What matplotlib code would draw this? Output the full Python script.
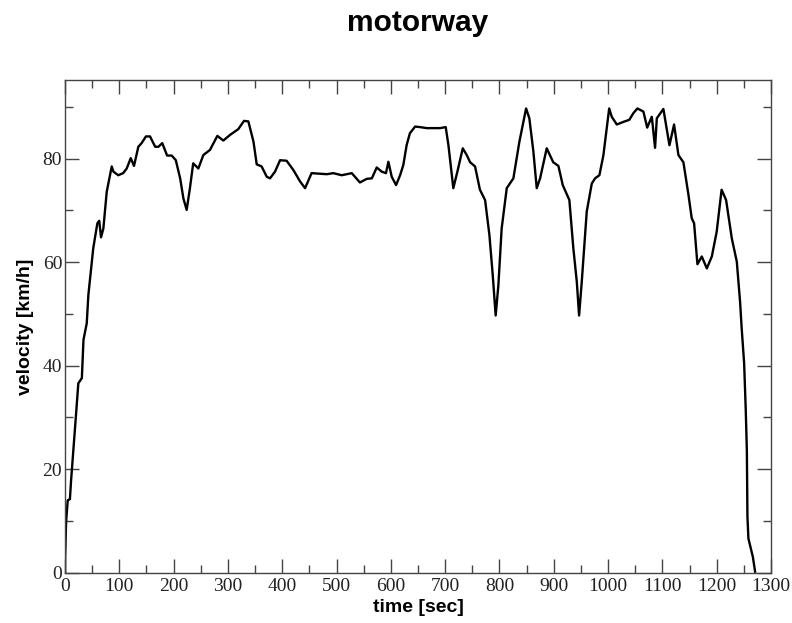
import matplotlib
matplotlib.use("Agg")
import matplotlib.pyplot as plt
from matplotlib.ticker import MultipleLocator

time_sec = [0, 0, 2, 5, 9, 11, 15, 20, 24.5, 31, 34, 40, 43, 52, 59.5, 63, 66.3, 70.6, 76.8,
            86, 89, 98, 107, 113.6, 121, 127, 135, 141, 149, 156.5, 166, 172, 179, 188,
            196.5, 204, 212, 218, 224, 230, 236, 245.5, 254.7, 267, 280.5, 291.5, 304,
            319, 329.6, 337.6, 347, 353, 362, 371.5, 377.5, 386.7, 396, 408, 420.5,
            432.8, 442, 454, 469.6, 482, 494, 509.5, 528, 543, 555.6, 565, 574, 583,
            591, 595.4, 601.6, 609.6, 617, 623, 629, 635, 644.6, 653.8, 666, 678,
            690.6, 701, 706, 715, 722.5, 732.4, 739.7, 746, 755, 764, 773.5, 781.4,
            787.6, 793, 798, 804, 813.4, 825.6, 836.7, 849, 855, 862.4, 868.6, 874.8,
            887, 899, 908.5, 916.5, 928.7, 936, 942.4, 946.6, 951.5, 960.7, 970, 976,
            984, 991.4, 997.6, 1002, 1006.7, 1016, 1028, 1039, 1046.6, 1054, 1065,
            1072, 1080.5, 1086.5, 1089.7, 1101.8, 1113, 1121.5, 1129.5, 1138.7, 1148,
            1154, 1158.4, 1164.5, 1172.5, 1181.8, 1191, 1200, 1209, 1217.3, 1227.8,
            1237, 1243, 1246, 1250.5, 1253.5, 1255.5, 1256.6, 1258.4, 1266.5, 1270.7]
velocity_kmh = [0, 1.9, 9.9, 14, 14.2, 17.6, 23.1, 30.2, 36.6, 37.6, 45, 48.2, 53.7, 62.7,
                67.5, 68.0, 64.8, 66.5, 73.6, 78.5, 77.5, 76.8, 77.2, 78.1, 80.1, 78.6,
                82.3, 83, 84.3, 84.3, 82.3, 82.3, 83, 80.6, 80.6, 79.7, 76.2, 72.3, 70.1,
                74.3, 79.1, 78.1, 80.7, 81.7, 84.4, 83.5, 84.6, 85.7, 87.3, 87.2, 83.3,
                78.9, 78.5, 76.5, 76.2, 77.5, 79.7, 79.6, 77.8, 75.6, 74.3, 77.2, 77.1,
                77, 77.2, 76.8, 77.2, 75.4, 76.1, 76.2, 78.3, 77.5, 77.2, 79.4, 76.5,
                74.9, 76.8, 78.8, 82.6, 84.9, 86.2, 86.1, 85.9, 85.9, 85.9, 86.1, 82.6,
                74.3, 77.5, 82, 80.7, 79.3, 78.5, 74, 72, 65.3, 57.5, 49.7, 55.6, 66.5,
                74.3, 76.2, 83.3, 89.7, 87.8, 81.4, 74.3, 76.2, 82, 79.3, 78.6, 74.9, 72,
                62.7, 56.2, 49.7, 56.2, 69.8, 75.2, 76.2, 76.8, 80.7, 85.9, 89.7, 88.1,
                86.6, 87.1, 87.5, 88.8, 89.7, 89.1, 86, 88.1, 82.1, 87.8, 89.6, 82.6,
                86.6, 80.7, 79.3, 73, 68.5, 67.5, 59.6, 61.1, 58.8, 61.1, 65.9, 74, 72,
                64.6, 60.1, 52.4, 47.2, 40.5, 31.4, 23.7, 10.8, 6.6, 3.1, 0.2]

fig = plt.figure(figsize=(7.92, 6.23), dpi=100)
ax = fig.add_axes([0.0821, 0.0807, 0.8914, 0.7909])
ax.plot(time_sec, velocity_kmh, color="black", linewidth=1.7)
ax.set_xlim(0, 1300)
ax.set_ylim(0, 95.2)
ax.xaxis.set_major_locator(MultipleLocator(100))
ax.xaxis.set_minor_locator(MultipleLocator(50))
ax.yaxis.set_major_locator(MultipleLocator(20))
ax.yaxis.set_minor_locator(MultipleLocator(10))
ax.tick_params(which="both", direction="in", top=True, right=True, color="#444444")
ax.tick_params(which="major", length=10, width=1)
ax.tick_params(axis="x", which="major", pad=4)
ax.tick_params(axis="y", which="major", pad=2)
ax.tick_params(which="minor", length=5.5, width=1)
for lab in ax.get_xticklabels() + ax.get_yticklabels():
    lab.set_family("Liberation Serif")
    lab.set_fontsize(14)
    lab.set_color("#222222")
for s in ax.spines.values():
    s.set_color("#444444")
    s.set_linewidth(1)
ax.set_xlabel("time [sec]", fontsize=14, fontweight="bold", family="Liberation Sans", labelpad=3)
ax.set_ylabel("velocity [km/h]", fontsize=14, fontweight="bold", family="Liberation Sans", labelpad=6)
fig.text(0.527, 0.963, "motorway", ha="center", va="center", fontsize=21.5, fontweight="bold",
         family="Liberation Sans")
fig.savefig("out.png", dpi=100)
